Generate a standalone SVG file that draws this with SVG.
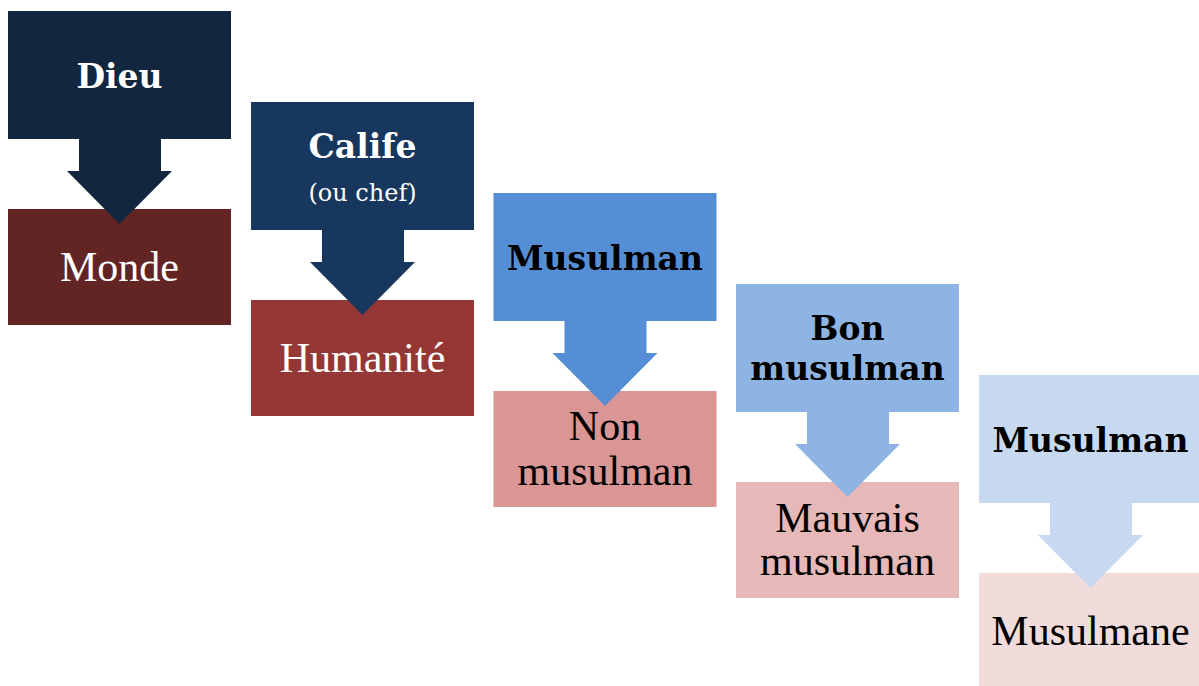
<svg xmlns="http://www.w3.org/2000/svg" width="1199" height="686" viewBox="0 0 1199 686">
<style>
.b{font-family:"DejaVu Serif",serif;font-weight:bold;font-size:33px;text-anchor:middle}
.r{font-family:"Liberation Serif",serif;font-size:42px;text-anchor:middle}
.s{font-family:"DejaVu Serif",serif;font-size:24px;text-anchor:middle}
.w{fill:#ffffff}
.k{fill:#000000}
</style>
<rect width="1199" height="686" fill="#ffffff"/>
<g id="monde"><rect x="8" y="209" width="223" height="116" fill="#632524"/><text class="r w" x="119.5" y="281">Monde</text></g>
<g id="humanite"><rect x="251" y="300" width="223" height="116" fill="#953735"/><text class="r w" x="362.5" y="372">Humanité</text></g>
<g id="non-musulman"><rect x="493.5" y="391" width="223" height="116" fill="#D99694"/><text class="r k" x="605" y="440">Non</text><text class="r k" x="605" y="485">musulman</text></g>
<g id="mauvais-musulman"><rect x="736" y="482" width="223" height="116" fill="#E6B9B8"/><text class="r k" x="847.5" y="532">Mauvais</text><text class="r k" x="847.5" y="575">musulman</text></g>
<g id="musulmane"><rect x="979" y="573" width="223" height="116" fill="#F2DCDB"/><text class="r k" x="1090.5" y="645">Musulmane</text></g>
<g id="connectors">
<polygon points="79,138 161,138 161,171 172,171 119.5,224 67,171 79,171" fill="#12263F"/>
<polygon points="322,229 404,229 404,262 415,262 362.5,315 310,262 322,262" fill="#17375E"/>
<polygon points="564.5,320 646.5,320 646.5,353 657.5,353 605,406 552.5,353 564.5,353" fill="#558ED5"/>
<polygon points="807,411 889,411 889,444 900,444 847.5,497 795,444 807,444" fill="#8EB4E3"/>
<polygon points="1050,502 1132,502 1132,535 1143,535 1090.5,588 1038,535 1050,535" fill="#C6D9F1"/>
</g>
<g id="dieu"><rect x="8" y="11" width="223" height="128" fill="#12263F"/><text class="b w" x="119.5" y="88">Dieu</text></g>
<g id="calife"><rect x="251" y="102" width="223" height="128" fill="#17375E"/><text class="b w" x="362.5" y="158">Calife</text><text class="s w" x="362.5" y="201">(ou chef)</text></g>
<g id="musulman"><rect x="493.5" y="193" width="223" height="128" fill="#558ED5"/><text class="b k" x="605" y="270">Musulman</text></g>
<g id="bon-musulman"><rect x="736" y="284" width="223" height="128" fill="#8EB4E3"/><text class="b k" x="847.5" y="340">Bon</text><text class="b k" x="847.5" y="380">musulman</text></g>
<g id="musulman-2"><rect x="979" y="375" width="223" height="128" fill="#C6D9F1"/><text class="b k" x="1090.5" y="452">Musulman</text></g>
</svg>
